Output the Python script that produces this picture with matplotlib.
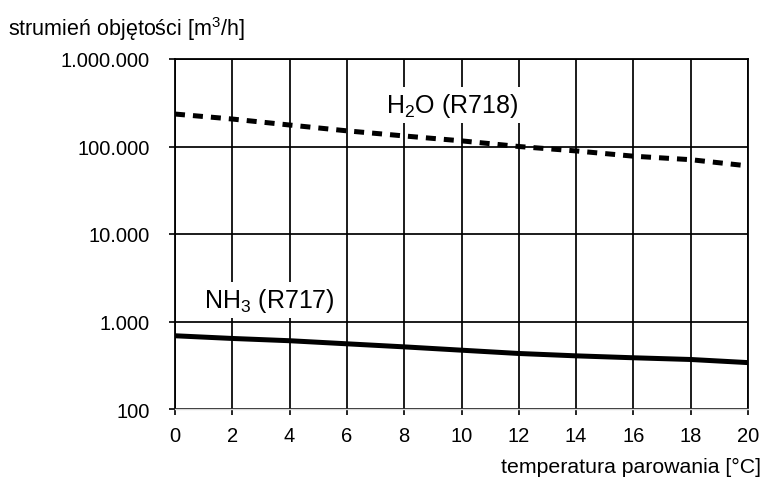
import matplotlib
matplotlib.use("Agg")
import matplotlib.pyplot as plt
from matplotlib.ticker import FixedLocator, NullLocator

plt.rcParams['font.family'] = ['Liberation Sans', 'DejaVu Sans']
plt.rcParams['mathtext.fontset'] = 'custom'
plt.rcParams['mathtext.rm'] = 'Liberation Sans'
plt.rcParams['mathtext.it'] = 'Liberation Sans'
plt.rcParams['mathtext.default'] = 'rm'

# data
temps = [0, 2, 4, 6, 8, 10, 12, 14, 16, 18, 20]
h2o = [235000, 206000, 176000, 151000, 132000, 116000, 100000, 89000, 77500, 70700, 60000]
nh3 = [687, 640, 603, 556, 513, 470, 431, 405, 385, 368, 339]
x_ticks = [0, 2, 4, 6, 8, 10, 12, 14, 16, 18, 20]
y_ticks = [100, 1000, 10000, 100000, 1000000]
y_labels = ['100', '1.000', '10.000', '100.000', '1.000.000']

fig = plt.figure(figsize=(7.63, 4.81), dpi=100)
ax = fig.add_axes([175/763, 1-410/481, (748-175)/763, (410-60)/481])

ax.set_yscale('log')
ax.set_xlim(0, 20)
ax.set_ylim(100, 1000000)
ax.xaxis.set_major_locator(FixedLocator(x_ticks))
ax.yaxis.set_major_locator(FixedLocator(y_ticks))
ax.yaxis.set_minor_locator(NullLocator())
ax.set_yticklabels(y_labels)
ax.grid(True, color='black', linewidth=1.25, zorder=1)
ax.set_axisbelow(True)
ax.tick_params(axis='both', direction='out', length=4, width=1.2, labelsize=14.5)
ax.tick_params(axis='x', pad=8)
ax.tick_params(axis='y', pad=14)

for s in ['top', 'right', 'left']:
    ax.spines[s].set_color('black')
    ax.spines[s].set_linewidth(1.3)
ax.spines['bottom'].set_color('#d8d8d8')
ax.spines['bottom'].set_linewidth(1.0)

ax.plot(temps, h2o, color='black', linewidth=3.6, linestyle=(0, (2.0, 1.6)),
        dash_capstyle='butt', zorder=3)
ax.plot(temps, nh3, color='black', linewidth=3.6, solid_capstyle='butt', zorder=3)

ax.text(9.67, 300000, 'H$_2$O (R718)', fontsize=18, ha='center', va='center',
        bbox=dict(facecolor='white', edgecolor='none', pad=3), zorder=2)
ax.text(3.3, 1750, 'NH$_3$ (R717)', fontsize=18, ha='center', va='center',
        bbox=dict(facecolor='white', edgecolor='none', pad=3), zorder=2)

fig.text(8/763, 1-29/481, 'strumień objętości [m$^3$/h]', fontsize=15.5,
         ha='left', va='center')
fig.text(761/763, 1-467/481, 'temperatura parowania [°C]', fontsize=15.3,
         ha='right', va='center')

fig.savefig('out.png', dpi=100)
